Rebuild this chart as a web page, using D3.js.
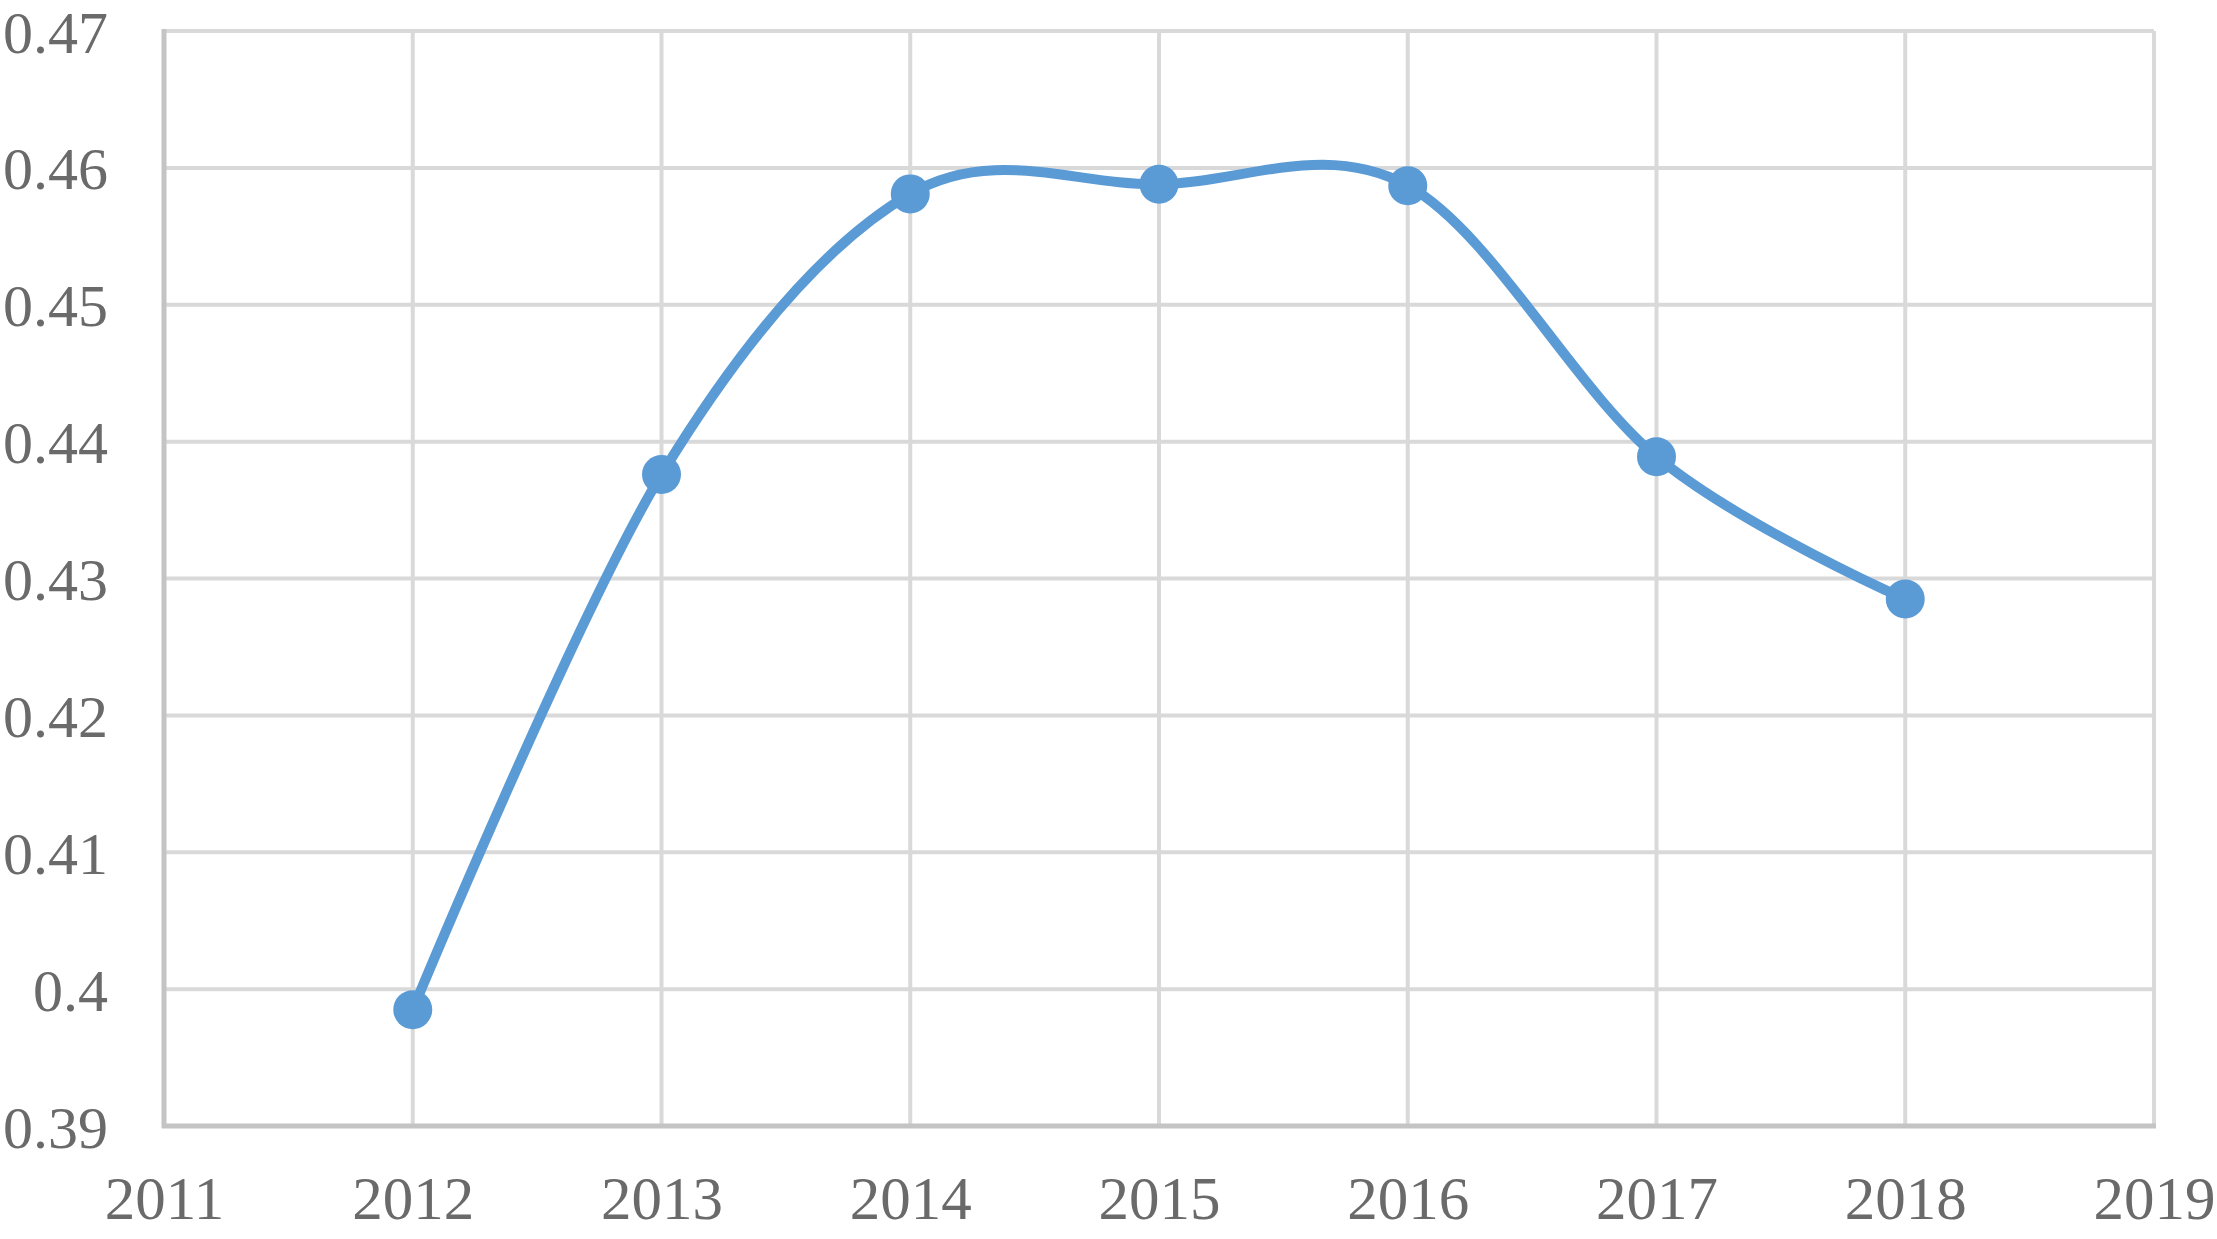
<!DOCTYPE html>
<html>
<head>
<meta charset="utf-8">
<script src="https://cdn.jsdelivr.net/npm/d3@7"></script>
<style>
  html, body { margin: 0; padding: 0; background: #ffffff; }
  svg { display: block; }
</style>
</head>
<body>
<script>
const years = [2012, 2013, 2014, 2015, 2016, 2017, 2018];
const values = [0.3985, 0.4376, 0.4581, 0.4588, 0.4587, 0.4389, 0.4285];
const xTicks = [2011, 2012, 2013, 2014, 2015, 2016, 2017, 2018, 2019];
const yTicks = [0.39, 0.40, 0.41, 0.42, 0.43, 0.44, 0.45, 0.46, 0.47];
const yTickLabels = ["0.39", "0.4", "0.41", "0.42", "0.43", "0.44", "0.45", "0.46", "0.47"];

const W = 2217, H = 1239;
const svg = d3.select("body").append("svg").attr("width", W).attr("height", H);

const x = d3.scaleLinear().domain([2011, 2019]).range([164, 2154]);
const y = d3.scaleLinear().domain([0.39, 0.47]).range([1126, 31]);

const gridColor = "#d9d9d9";
const axisColor = "#c4c4c4";
const textColor = "#6a6a6a";
const font = "'Liberation Serif', 'Times New Roman', serif";

// horizontal gridlines
svg.append("g").selectAll("line").data(yTicks.slice(1)).join("line")
  .attr("x1", x(2011)).attr("x2", x(2019))
  .attr("y1", d => y(d)).attr("y2", d => y(d))
  .attr("stroke", gridColor).attr("stroke-width", 4);

// vertical gridlines
svg.append("g").selectAll("line").data(xTicks.slice(1)).join("line")
  .attr("x1", d => x(d)).attr("x2", d => x(d))
  .attr("y1", y(0.47)).attr("y2", y(0.39))
  .attr("stroke", gridColor).attr("stroke-width", 4);

// axis lines
svg.append("line").attr("x1", x(2011)).attr("x2", x(2011))
  .attr("y1", y(0.47) - 2).attr("y2", y(0.39) + 2)
  .attr("stroke", axisColor).attr("stroke-width", 5);
svg.append("line").attr("x1", x(2011) - 2).attr("x2", x(2019) + 2)
  .attr("y1", y(0.39)).attr("y2", y(0.39))
  .attr("stroke", axisColor).attr("stroke-width", 5);

// y axis labels
const yAxis = d3.axisLeft(y).tickValues(yTicks)
  .tickFormat((d, i) => yTickLabels[i]).tickSize(0).tickPadding(56);
const gy = svg.append("g").attr("transform", `translate(${x(2011)},0)`).call(yAxis);
gy.select(".domain").remove();
gy.selectAll("text").attr("font-family", font).attr("font-size", 60)
  .attr("fill", textColor).attr("dy", "0.35em");

// x axis labels
const xAxis = d3.axisBottom(x).tickValues(xTicks)
  .tickFormat(d => String(d)).tickSize(0).tickPadding(50);
const gx = svg.append("g").attr("transform", `translate(0,${y(0.39)})`).call(xAxis);
gx.select(".domain").remove();
gx.selectAll("text").attr("font-family", font).attr("font-size", 61)
  .attr("fill", textColor);

// smoothed line
const data = years.map((yr, i) => ({ yr, v: values[i] }));
const line = d3.line().x(d => x(d.yr)).y(d => y(d.v)).curve(d3.curveCatmullRom.alpha(0));
svg.append("path").datum(data).attr("d", line)
  .attr("fill", "none").attr("stroke", "#5b9bd5").attr("stroke-width", 10)
  .attr("stroke-linejoin", "round").attr("stroke-linecap", "round");

// markers
svg.append("g").selectAll("circle").data(data).join("circle")
  .attr("cx", d => x(d.yr)).attr("cy", d => y(d.v)).attr("r", 19.5)
  .attr("fill", "#5b9bd5");
</script>
</body>
</html>
